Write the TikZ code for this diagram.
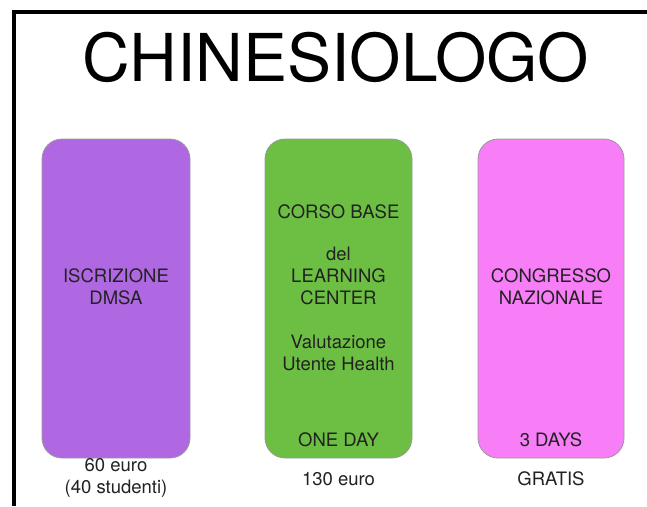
\documentclass[tikz,border=0pt]{standalone}
\usepackage{fontspec}
\setmainfont{TeX Gyre Heros}
\definecolor{cpurple}{HTML}{B068E2}
\definecolor{cgreen}{HTML}{6DBF43}
\definecolor{cpink}{HTML}{F77EF6}
\definecolor{ctext}{HTML}{222222}
\begin{document}
\begin{tikzpicture}[x=1pt,y=-1pt,
  card/.style={draw=black!40, line width=0.8pt, rounded corners=20pt},
  lbl/.style={text=ctext, font=\fontsize{18.5}{22}\selectfont, align=center, inner sep=0pt},
  frame/.style={line width=4pt, black}]
\useasboundingbox (0,0) rectangle (647,506);
\fill[white] (0,0) rectangle (647,506);
\draw[frame] (14,506) -- (14,12) -- (649,12);
\node[font=\fontsize{66}{70}\selectfont, inner sep=0pt] (title) at (336,57) {CHINESIOLOGO};
\draw[card, fill=cpurple] (42,139) rectangle (190,458);
\draw[card, fill=cgreen] (265,139) rectangle (412,458);
\draw[card, fill=cpink] (478,139) rectangle (624,458);
\node[lbl] (a1) at (116,287) {ISCRIZIONE\\DMSA};
\node[lbl] (b1) at (338.5,212) {CORSO BASE};
\node[lbl] (b2) at (338.5,276) {del\\LEARNING\\CENTER};
\node[lbl] (b3) at (338.5,353) {Valutazione\\Utente Health};
\node[lbl] (b4) at (338.5,440) {ONE DAY};
\node[lbl] (c1) at (551,287) {CONGRESSO\\NAZIONALE};
\node[lbl] (c2) at (551,440) {3 DAYS};
\node[lbl] (a2) at (116,478) {60 euro\\(40 studenti)};
\node[lbl] (b5) at (338.5,479) {130 euro};
\node[lbl] (c3) at (551,479) {GRATIS};
\end{tikzpicture}
\end{document}
